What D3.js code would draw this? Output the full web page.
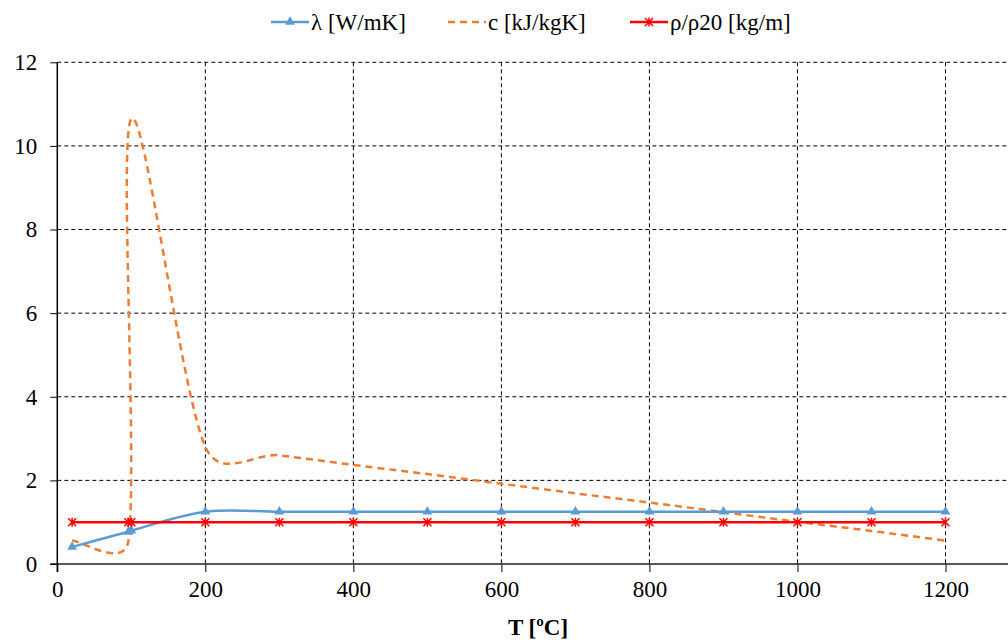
<!DOCTYPE html>
<html>
<head>
<meta charset="utf-8">
<script src="https://cdn.jsdelivr.net/npm/d3@7"></script>
<style>
  @font-face { font-family: "ChartSerif"; src: local("Liberation Serif"), local("LiberationSerif"), local("Times New Roman"); font-weight: normal; }
  @font-face { font-family: "ChartSerif"; src: local("Liberation Serif Bold"), local("LiberationSerif-Bold"), local("Times New Roman Bold"); font-weight: bold; }
  body { margin: 0; background: #fff; }
  #chart, #chart text { font-family: "Times New Roman", "Liberation Serif", ChartSerif, serif; }
</style>
</head>
<body>
<svg id="chart" width="1008" height="640" style="display:block"></svg>
<script>
// temperatures [ºC] where the series were given
const temps = [20, 96, 100, 200, 300, 400, 500, 600, 700, 800, 900, 1000, 1100, 1200];
// thermal conductivity λ [W/mK]
const lambda = [0.41, 0.77, 0.8, 1.25, 1.25, 1.25, 1.25, 1.25, 1.25, 1.25, 1.25, 1.25, 1.25, 1.25];
// specific heat c [kJ/kgK]
const heat = [0.56, 0.55, 10.65, 2.8, 2.6, 2.37, 2.15, 1.92, 1.69, 1.47, 1.24, 1.01, 0.79, 0.56];
// relative density ρ/ρ20
const density = [1, 1, 1, 1, 1, 1, 1, 1, 1, 1, 1, 1, 1, 1];

const xTicks = [0, 200, 400, 600, 800, 1000, 1200];
const yTicks = [0, 2, 4, 6, 8, 10, 12];

const width = 1008, height = 640;

const svg = d3.select("#chart");

const x = d3.scaleLinear().domain([0, 1200]).range([57.3, 945.5]);
const y = d3.scaleLinear().domain([0, 12]).range([564, 62.3]);

// gridlines
const grid = svg.append("g")
  .attr("stroke", "#000")
  .attr("stroke-width", 1)
  .attr("stroke-dasharray", "4,3");

grid.selectAll("line.h")
  .data(yTicks.filter((d) => d > 0))
  .join("line")
  .attr("class", "h")
  .attr("x1", x(0))
  .attr("x2", width)
  .attr("y1", (d) => y(d))
  .attr("y2", (d) => y(d));

grid.selectAll("line.v")
  .data(xTicks.filter((d) => d > 0))
  .join("line")
  .attr("class", "v")
  .attr("x1", (d) => x(d))
  .attr("x2", (d) => x(d))
  .attr("y1", y(12))
  .attr("y2", y(0));

// axes
const xAxis = svg.append("g")
  .attr("transform", `translate(0,${y(0)})`)
  .call(d3.axisBottom(x).tickValues(xTicks).tickFormat(d3.format("d")).tickSize(8).tickPadding(9));
xAxis.select(".domain").remove();
xAxis.append("line")
  .attr("x1", x(0) - 7)
  .attr("x2", width)
  .attr("stroke", "#222")
  .attr("stroke-width", 1.5);

const yAxis = svg.append("g")
  .attr("transform", `translate(${x(0)},0)`)
  .call(d3.axisLeft(y).tickValues(yTicks).tickSize(7).tickPadding(13));
yAxis.select(".domain")
  .attr("d", `M0,${y(12)}V${y(0) + 8}`)
  .attr("stroke", "#000")
  .attr("stroke-width", 1.5);

xAxis.attr("font-family", null).attr("font-size", 23);
yAxis.attr("font-family", null).attr("font-size", 23);
svg.selectAll(".tick text").attr("fill", "#000");
svg.selectAll(".tick line").attr("stroke", "#000");

// x title
svg.append("text")
  .attr("x", 538)
  .attr("y", 635)
  .attr("text-anchor", "middle")
  .attr("font-size", 23)
  .attr("font-weight", "bold")
  .text("T [ºC]");

// smoothed line in pixel space (cubic Bezier, tangents limited by segment length)
function smoothPath(vals) {
  const p = vals.map((v, i) => [x(temps[i]), y(v)]);
  const n = p.length;
  const dist = (a, b) => Math.hypot(b[0] - a[0], b[1] - a[1]);
  const tan = p.map((pt, i) => {
    const a = p[Math.max(0, i - 1)], b = p[Math.min(n - 1, i + 1)];
    return [(b[0] - a[0]) / 6, (b[1] - a[1]) / 6];
  });
  const path = d3.path();
  path.moveTo(p[0][0], p[0][1]);
  for (let i = 0; i < n - 1; i++) {
    const seg = dist(p[i], p[i + 1]);
    const t0 = tan[i], t1 = tan[i + 1];
    const l0 = Math.hypot(t0[0], t0[1]) || 1, l1 = Math.hypot(t1[0], t1[1]) || 1;
    const s0 = Math.min(1, 0.5 * seg / l0), s1 = Math.min(1, 0.5 * seg / l1);
    path.bezierCurveTo(
      p[i][0] + t0[0] * s0, p[i][1] + t0[1] * s0,
      p[i + 1][0] - t1[0] * s1, p[i + 1][1] - t1[1] * s1,
      p[i + 1][0], p[i + 1][1]);
  }
  return path.toString();
}

// c series
svg.append("path")
  .attr("d", smoothPath(heat))
  .attr("fill", "none")
  .attr("stroke", "#ED7D31")
  .attr("stroke-width", 2.5)
  .attr("stroke-dasharray", "7,5");

// λ series
svg.append("path")
  .attr("d", smoothPath(lambda))
  .attr("fill", "none")
  .attr("stroke", "#5B9BD5")
  .attr("stroke-width", 2.5);

const tri = d3.symbol().type(d3.symbolTriangle).size(42);
svg.append("g")
  .selectAll("path")
  .data(lambda)
  .join("path")
  .attr("transform", (d, i) => `translate(${x(temps[i])},${y(d)})`)
  .attr("d", tri)
  .attr("fill", "#5B9BD5");

// ρ/ρ20 series
svg.append("path")
  .attr("d", d3.line().x((d, i) => x(temps[i])).y((d) => y(d))(density))
  .attr("fill", "none")
  .attr("stroke", "#FF0000")
  .attr("stroke-width", 2.5);

function star(g) {
  g.append("path")
    .attr("d", "M-4,-4L4,4M-4,4L4,-4M0,-4.5V4.5")
    .attr("stroke", "#FF0000")
    .attr("stroke-width", 1.5);
}
svg.append("g")
  .selectAll("g")
  .data(density)
  .join("g")
  .attr("transform", (d, i) => `translate(${x(temps[i])},${y(d)})`)
  .each(function () { star(d3.select(this)); });

// legend
const legend = svg.append("g").attr("font-size", 23);
const items = [
  { label: "λ [W/mK]", color: "#5B9BD5", dash: null, mark: "tri", x0: 271 },
  { label: "c [kJ/kgK]", color: "#ED7D31", dash: "7,5", mark: null, x0: 448 },
  { label: "ρ/ρ20 [kg/m]", color: "#FF0000", dash: null, mark: "star", x0: 630 },
];
items.forEach((it) => {
  const g = legend.append("g").attr("transform", `translate(${it.x0},22)`);
  g.append("line")
    .attr("x1", 0).attr("x2", 38)
    .attr("stroke", it.color)
    .attr("stroke-width", 2.5)
    .attr("stroke-dasharray", it.dash);
  if (it.mark === "tri") {
    g.append("path").attr("transform", "translate(19,0)").attr("d", tri).attr("fill", it.color);
  }
  if (it.mark === "star") {
    star(g.append("g").attr("transform", "translate(19,0)"));
  }
  g.append("text")
    .attr("x", 40)
    .attr("y", 8)
    .text(it.label);
});
</script>
</body>
</html>
